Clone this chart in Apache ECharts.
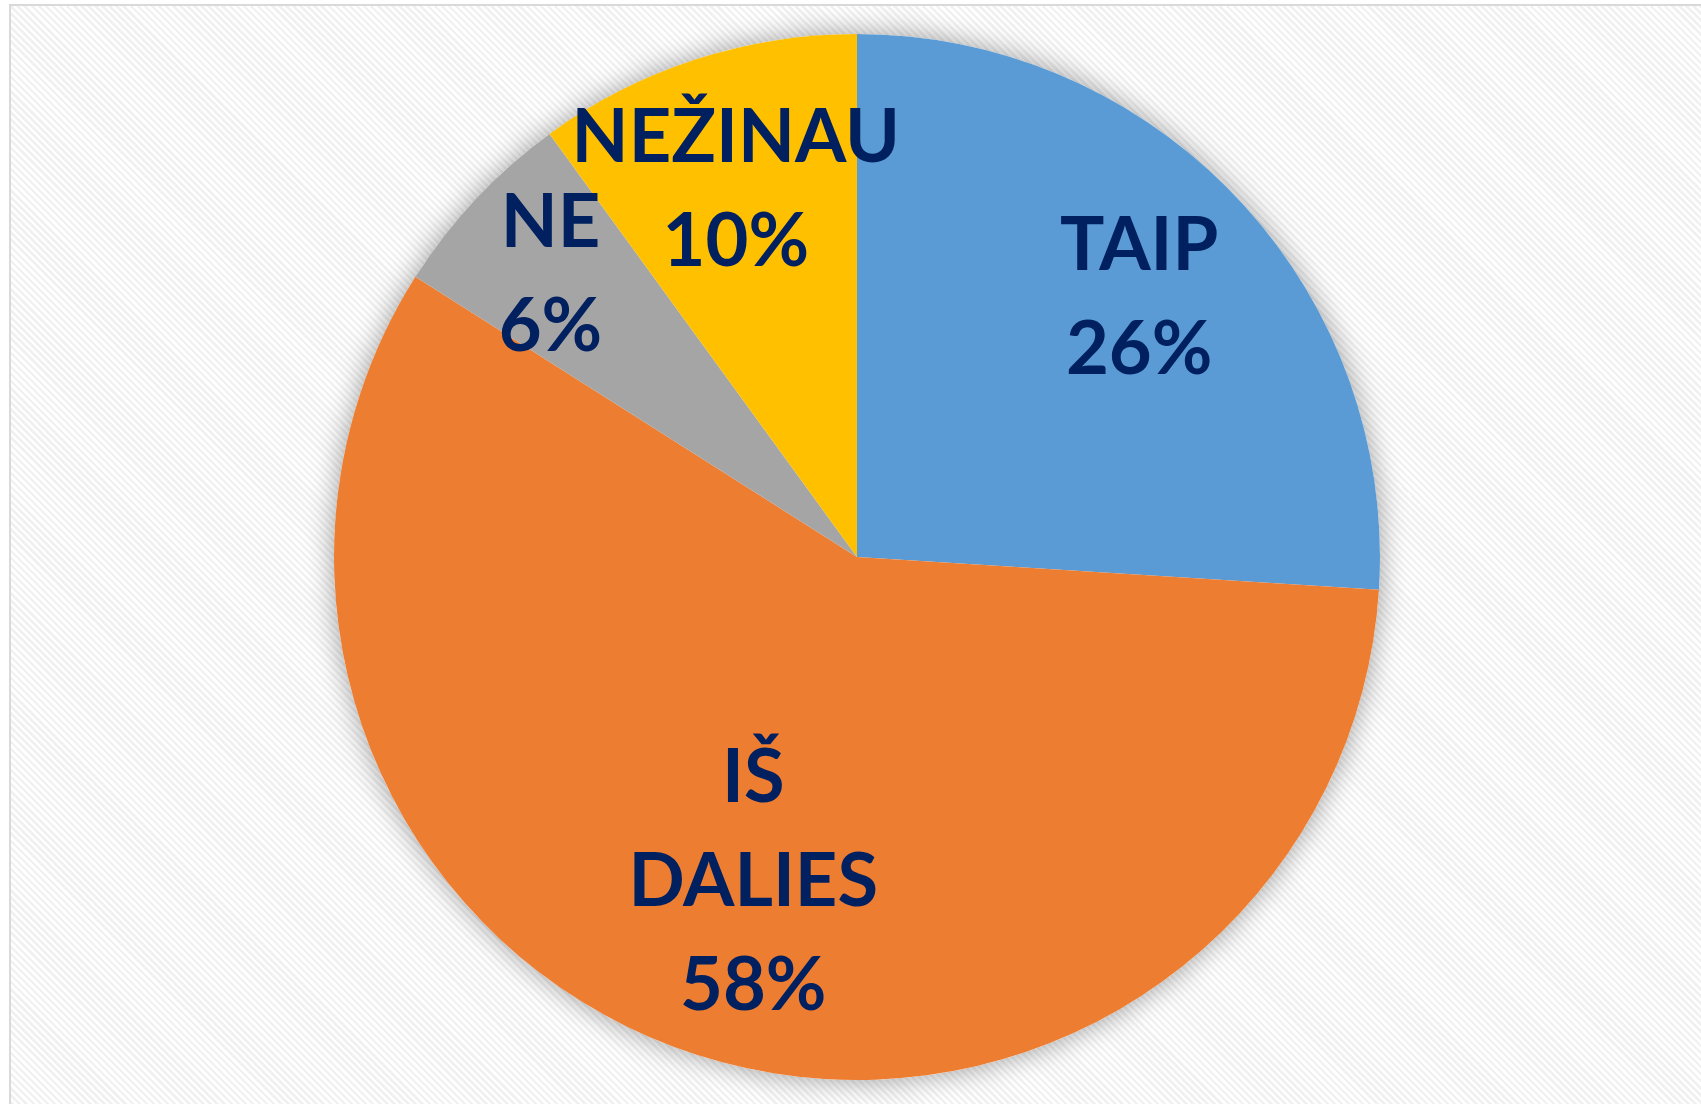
<!DOCTYPE html>
<html>
<head>
<meta charset="utf-8">
<script src="https://cdn.jsdelivr.net/npm/echarts@6/dist/echarts.min.js"></script>
<style>
  html, body { margin: 0; padding: 0; background: #ffffff; overflow: hidden; }
  #frame {
    position: absolute; left: 9px; top: 4px; width: 1720px; height: 1130px;
    border-left: 2px solid #d9d9d9; border-top: 2px solid #d9d9d9;
    background: repeating-linear-gradient(45deg, #ffffff 0px, #ffffff 2.5px, #f1f1f1 2.5px, #f1f1f1 5px);
  }
  #chart { position: absolute; left: 0; top: 0; width: 1701px; height: 1104px; }
</style>
</head>
<body>
<div id="frame"></div>
<div id="chart"></div>
<script>
// ---- data ----
const categories = ['TAIP', 'IŠ DALIES', 'NE', 'NEŽINAU'];
const values = [26, 58, 6, 10];
// ---- styling ----
const colors = ['#5B9BD5', '#ED7D31', '#A5A5A5', '#FFC000'];
const labelRadiusFrac = [0.74, 0.642, 0.804, 0.75];

const R = 523;
const seriesData = categories.map((name, i) => ({
  name: name,
  value: values[i],
  itemStyle: { color: colors[i] },
  // label anchored inside the slice at a fraction of the radius
  labelLine: { show: false, length: (labelRadiusFrac[i] - 1) * R, length2: 0 }
}));

const chart = echarts.init(document.getElementById('chart'), null, { renderer: 'canvas' });
chart.setOption({
  backgroundColor: 'transparent',
  animation: false,
  series: [
    {
      type: 'pie',
      silent: true,
      center: [857, 557],
      radius: [0, R],
      startAngle: 90,
      z: 1,
      label: { show: false },
      labelLine: { show: false },
      data: [{ value: 1, itemStyle: { color: '#ffffff', shadowBlur: 28, shadowColor: 'rgba(0,0,0,0.38)' } }]
    },
    {
      type: 'pie',
      center: [857, 557],
      radius: [0, R],
      startAngle: 90,
      clockwise: true,
      z: 2,
      avoidLabelOverlap: false,
      emphasis: { disabled: true },
      itemStyle: { borderWidth: 0 },
      label: {
        show: true,
        position: 'outside',
        alignTo: 'none',
        distanceToLabelLine: 0,
        color: '#002060',
        fontFamily: 'Lato',
        fontWeight: 'bold',
        fontSize: 74,
        lineHeight: 104,
        formatter: p => p.name.replace(' ', '\n') + '\n' + p.value + '%'
      },
      labelLayout: { align: 'center', verticalAlign: 'middle', dy: 6, hideOverlap: false, moveOverlap: null },
      data: seriesData
    }
  ]
});
</script>
</body>
</html>
